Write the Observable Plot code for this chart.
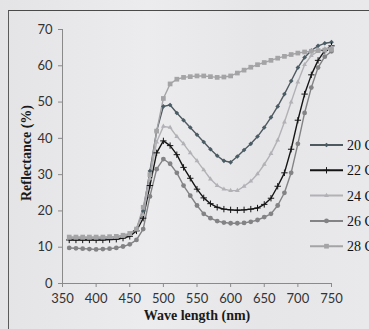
<!DOCTYPE html>
<html><head><meta charset="utf-8">
<script src="https://cdn.jsdelivr.net/npm/d3@7"></script>
<script src="https://cdn.jsdelivr.net/npm/@observablehq/plot@0.6"></script>
<style>
html,body{margin:0;padding:0;background:#e8e8eb;}
#wrap{position:relative;width:369px;height:329px;overflow:hidden;background:linear-gradient(90deg,#e4e4e7 0%,#ececef 40%,#e6e6e9 70%,#e9e9ec 100%);}
#frame{position:absolute;left:8px;top:10px;width:420px;height:420px;border-top:1.5px solid #4a4a4a;border-left:1.5px solid #5a5a5a;}
#chart{position:absolute;left:0;top:0;}
#legend{position:absolute;left:0;top:0;}
.title{position:absolute;font-family:"Liberation Serif","DejaVu Serif",serif;font-weight:bold;font-size:14px;color:#1a1a1a;white-space:nowrap;}
#ylab{left:27px;top:153px;transform:translate(-50%,-50%) rotate(-90deg);}
#xlab{left:197px;top:316px;transform:translate(-50%,-50%);}
</style></head><body>
<div id="wrap">
<div id="frame"></div>
<div id="chart"></div>
<svg id="legend" width="369" height="329"></svg>
<div class="title" id="ylab">Reflectance (%)</div>
<div class="title" id="xlab">Wave length (nm)</div>
</div>
<script>
const seriesNames = ["20 C", "22 C", "24 C", "26 C", "28 C"];
const wavelengths = [360,370,380,390,400,410,420,430,440,450,460,470,480,490,500,510,520,530,540,550,560,570,580,590,600,610,620,630,640,650,660,670,680,690,700,710,720,730,740,750];
const s20 = [12.5,12.5,12.5,12.5,12.5,12.5,12.6,12.8,13,13.5,15,20,31,42,48.8,49.2,47,45,43,41,39,37,35.2,33.8,33.4,35,36.8,38.5,40.5,43,45.8,48.8,52.2,55.8,59.5,62.3,64.2,65.5,66.2,66.5];
const s22 = [12,12,12,12,12,12,12.1,12.2,12.5,13,14.5,18,27,36,39.3,38,35.5,32,29,26,23.6,22,21,20.5,20.3,20.2,20.3,20.5,20.8,21.8,23.5,26.8,30.5,37,45,52.2,57.5,61.5,64.2,65.5];
const s24 = [12.5,12.5,12.5,12.5,12.5,12.6,12.7,12.8,13,13.5,15,19,29,39,43.3,43,40.5,38.5,36,33.8,31.3,28.8,27,26,25.6,25.6,26.8,28.2,30.2,32.8,35.8,39.5,44.5,50,55.5,60.3,62.8,64,64.7,65];
const s26 = [9.8,9.7,9.6,9.5,9.4,9.5,9.6,9.8,10.2,10.8,12,15,24,31.5,34.3,33,30.5,27,24.2,21.5,19.2,18,17.2,16.8,16.6,16.6,16.7,17,17.5,18.3,19.2,21.5,25,30.5,38.5,47,54,59.5,62.5,64];
const s28 = [12.8,12.8,12.8,12.8,12.8,12.8,12.9,13,13.3,13.8,15,21,30,42,51,55,56.3,56.8,57,57.2,57.2,57,56.8,56.9,57.2,58,58.8,59.6,60.3,60.9,61.5,62.1,62.6,63.1,63.5,63.8,64,64.2,64.3,64.5];
const xTicks = [350,400,450,500,550,600,650,700,750];
const yTicks = [0,10,20,30,40,50,60,70];

const seriesValues = [s20, s22, s24, s26, s28];
const colors = ["#4f5a60", "#151515", "#b2b2b6", "#838386", "#a4a4a6"];
const symbols = ["diamond2", "plus", "triangle2", "circle", "square2"];
const markerFill = ["#4a5c64", "#151515", "#b2b2b6", "#838386", "#a4a4a6"];
const markerR = [2.1, 2.2, 2.3, 2.4, 3.0];

const data = seriesNames.flatMap((s, i) => wavelengths.map((w, j) => ({s, w, r: seriesValues[i][j]})));

const plot = Plot.plot({
  width: 369, height: 329,
  marginLeft: 62, marginRight: 38, marginTop: 29, marginBottom: 46,
  style: {background: "transparent", fontFamily: "Lato, 'Open Sans', sans-serif", fontSize: "13px", color: "#333"},
  x: {domain: [350, 750]},
  y: {domain: [0, 70]},
  color: {domain: seriesNames, range: colors},
  symbol: {domain: seriesNames, range: symbols},
  marks: [
    Plot.ruleY([0], {stroke: "#8a8a8a", strokeWidth: 1}),
    Plot.ruleX([350], {stroke: "#8a8a8a", strokeWidth: 1}),
    Plot.axisX({ticks: xTicks, tickSize: 4, tickPadding: 6, stroke: "#8a8a8a", fill: "#333", label: null, fontSize: 13}),
    Plot.axisY({ticks: yTicks, tickSize: 4, tickPadding: 6, stroke: "#8a8a8a", fill: "#333", label: null, fontSize: 13}),
    Plot.line(data, {x: "w", y: "r", z: "s", stroke: "s", strokeWidth: 1.4}),
    ...seriesNames.map((name, i) => Plot.dot(data.filter(d => d.s === name), {
      x: "w", y: "r", symbol: "s", fill: markerFill[i], stroke: symbols[i] === "plus" ? markerFill[i] : "none",
      strokeWidth: 1, r: markerR[i]
    }))
  ]
});
document.getElementById("chart").appendChild(plot);

// legend
const lg = d3.select("#legend");
const legendTop = 145, legendStep = 25.3, lx0 = 310, lx1 = 343;
const symMap = {diamond2: d3.symbolDiamond2, plus: d3.symbolPlus, triangle2: d3.symbolTriangle2, circle: d3.symbolCircle, square2: d3.symbolSquare2};
seriesNames.forEach((name, i) => {
  const y = legendTop + i * legendStep;
  const g = lg.append("g");
  g.append("line").attr("x1", lx0).attr("x2", lx1).attr("y1", y).attr("y2", y)
    .attr("stroke", colors[i]).attr("stroke-width", 2);
  const sz = Math.PI * markerR[i] * markerR[i];
  const isPlus = symbols[i] === "plus";
  g.append("path").attr("d", d3.symbol(symMap[symbols[i]], sz)())
    .attr("transform", `translate(${(lx0 + lx1) / 2},${y})`)
    .attr("fill", markerFill[i]).attr("stroke", isPlus ? markerFill[i] : "none").attr("stroke-width", 1);
  g.append("text").attr("x", lx1 + 4).attr("y", y).attr("dy", "0.35em")
    .attr("font-family", "'Liberation Serif', serif").attr("font-size", 14).attr("fill", "#111")
    .text(name);
});
</script>
</body></html>
